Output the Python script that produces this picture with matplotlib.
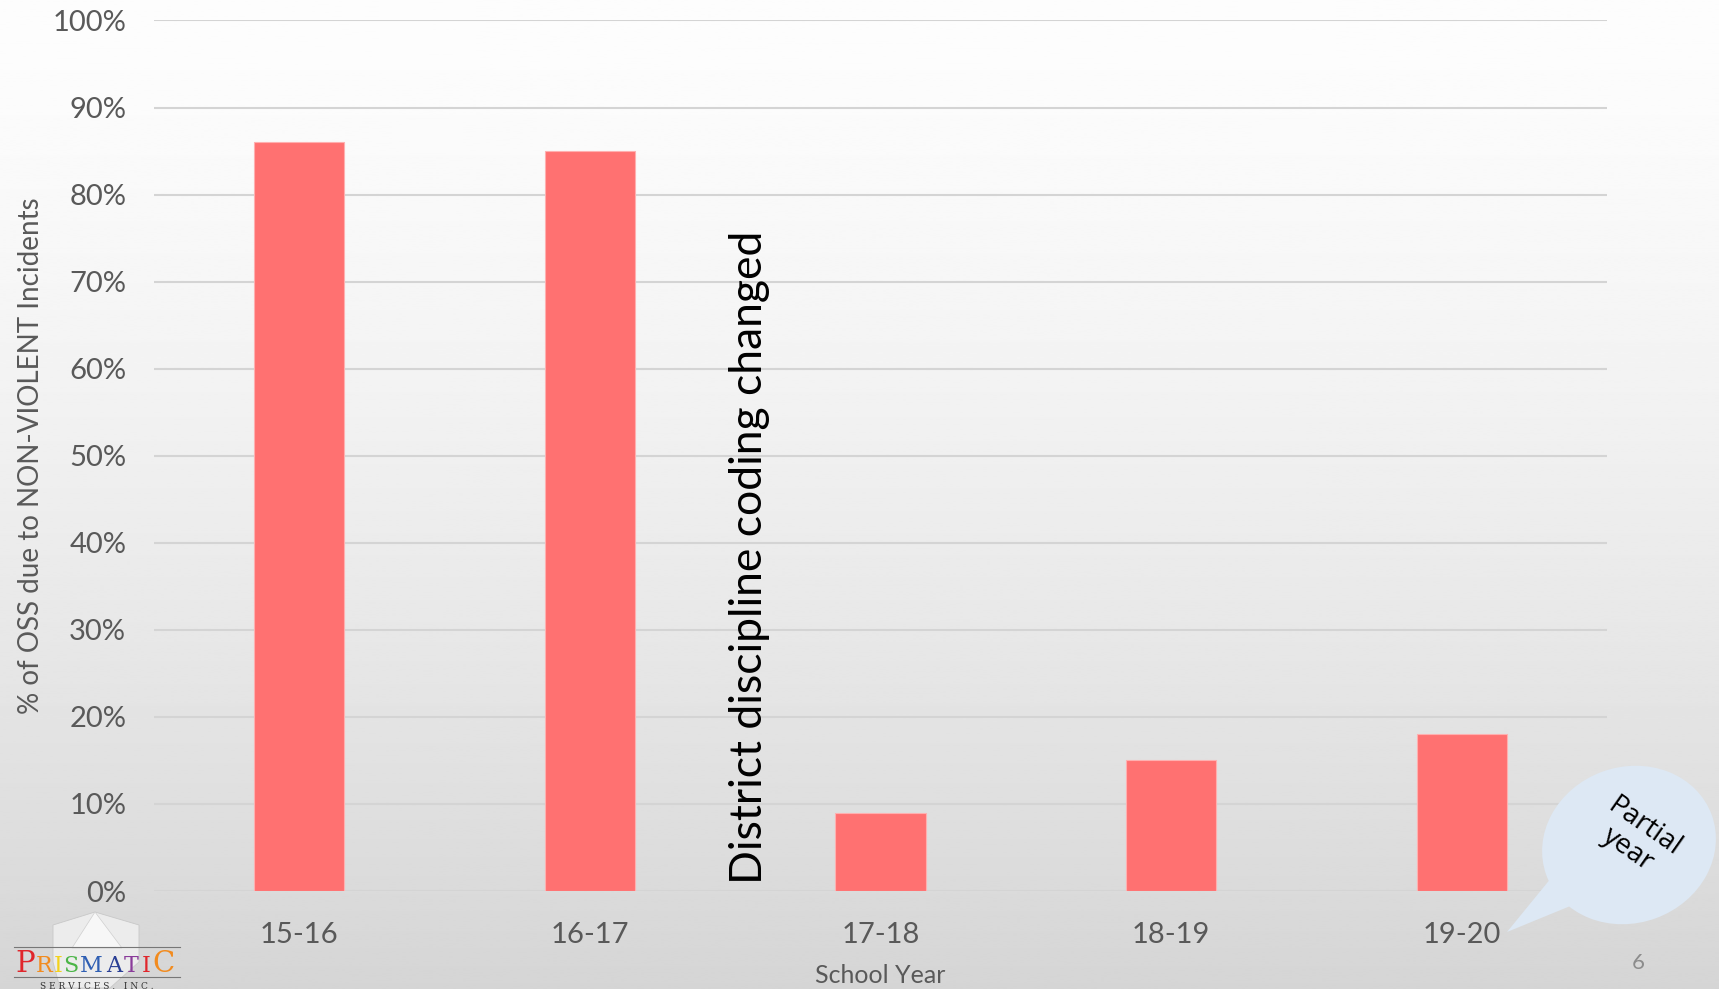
import numpy as np
import matplotlib.pyplot as plt
from matplotlib.patches import Ellipse, Polygon
from matplotlib.ticker import PercentFormatter

years = ["15-16", "16-17", "17-18", "18-19", "19-20"]
pct = [86, 85, 9, 15, 18]
yticks = [0, 10, 20, 30, 40, 50, 60, 70, 80, 90, 100]

plt.rcParams['font.family'] = ['Lato', 'DejaVu Sans']
W, H = 1719, 989
fig = plt.figure(figsize=(W / 100, H / 100), dpi=100)

# background gradient over the whole slide
bg = fig.add_axes([0, 0, 1, 1], zorder=0)
t = np.linspace(0, 1, 400)[:, None]
v = (253 - 40 * t ** 1.4) / 255
bg.imshow(np.repeat(v, 2, axis=1), cmap='gray', vmin=0, vmax=1, aspect='auto',
          extent=[0, W, H, 0])
bg.set_xlim(0, W)
bg.set_ylim(H, 0)
bg.axis('off')

ax = fig.add_axes([154 / W, 98 / H, (1607 - 154) / W, (891 - 20.5) / H], zorder=1)
ax.patch.set_alpha(0)
x = np.arange(len(years))
ax.bar(x, pct, width=0.31, color='#ff7171', edgecolor='#ffb0b0', linewidth=0.8, zorder=3)
ax.set_xlim(-0.5, len(years) - 0.5)
ax.set_ylim(0, 100)
ax.set_yticks(yticks)
ax.yaxis.set_major_formatter(PercentFormatter(decimals=0))
ax.set_xticks(x, years)
ax.grid(axis='y', color='#d4d4d4', linewidth=1.5, zorder=0)
for s in ax.spines.values():
    s.set_visible(False)
ax.tick_params(length=0, labelsize=21, labelcolor='#595959')
ax.tick_params(axis='y', pad=20)
ax.tick_params(axis='x', pad=22)
ax.set_xlabel("School Year", fontsize=18, color='#595959', labelpad=12)
ax.set_ylabel("% of OSS due to NON-VIOLENT Incidents", fontsize=20, color='#595959', labelpad=6)

# overlay in pixel coords
ov = fig.add_axes([0, 0, 1, 1], zorder=2)
ov.set_xlim(0, W)
ov.set_ylim(H, 0)
ov.axis('off')

ov.text(749, 557, "District discipline coding changed", rotation=90, fontsize=32,
        color='black', ha='center', va='center')

# speech bubble
ov.add_patch(Polygon([(1556, 872), (1507, 932), (1585, 900)], closed=True,
                     facecolor='#dde8f4', edgecolor='none'))
ov.add_patch(Ellipse((1629, 845), 176, 156, angle=-20, facecolor='#dde8f4', edgecolor='none'))
ov.text(1636, 838, "Partial\nyear", rotation=-35, fontsize=20, ha='center', va='center',
        color='black', linespacing=1.0, family=['Open Sans', 'DejaVu Sans'])

ov.text(1638, 963, "6", fontsize=16, color='#8c8c8c', ha='center', va='center')

# logo
ov.add_patch(Polygon([(53, 925), (95, 912), (139, 925), (139, 962), (110, 988), (60, 988), (53, 962)],
                     closed=True, facecolor='#ececec', edgecolor='#c8c8c8', linewidth=0.6))
ov.add_patch(Polygon([(95, 912), (72, 948), (122, 948)], closed=True, facecolor='#f7f7f7',
                     edgecolor='#cfcfcf', linewidth=0.5))
ov.plot([14, 180], [947, 947], color='#777777', lw=0.8)
ov.plot([14, 180], [977, 977], color='#777777', lw=0.8)
letters = "PRISMATIC"
cols = ['#e0262c', '#f28b1e', '#f3d21c', '#4bb547', '#2f5fb3', '#2a3f95', '#8a3b9a', '#e0262c', '#f28b1e']
xs = [15, 36, 54, 63, 80, 106, 124, 142, 152]
for i, (ch, c) in enumerate(zip(letters, cols)):
    sz = 21 if i in (0, 8) else 16
    ov.text(xs[i], 972, ch, fontsize=sz, color=c, family='DejaVu Serif', ha='left', va='baseline')
ov.text(97, 986, "S E R V I C E S ,   I N C .", fontsize=6.5, color='#333333',
        family='DejaVu Serif', ha='center', va='center')

fig.savefig("out.png", dpi=100)
